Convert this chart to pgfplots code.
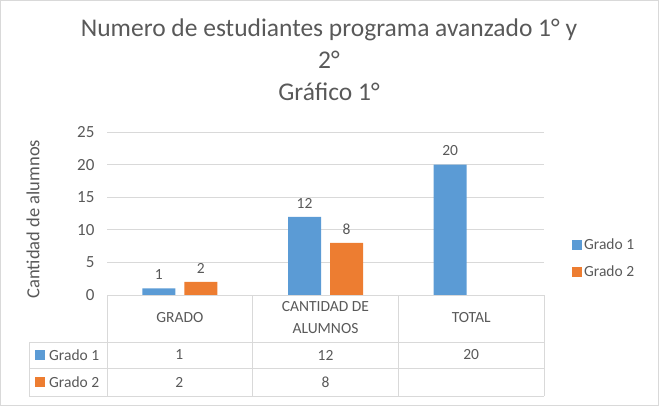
\documentclass[border=0pt]{standalone}
\usepackage{pgfplots}
\pgfplotsset{compat=1.18}
\usepackage{fontspec}
\setmainfont{Carlito}
\definecolor{gblue}{HTML}{5B9BD5}
\definecolor{gorange}{HTML}{ED7D31}
\definecolor{txt}{HTML}{595959}
\definecolor{gridc}{HTML}{D9D9D9}
\newcommand{\fs}{\fontsize{15.5}{22}\selectfont}
\begin{document}
\begin{tikzpicture}[x=1pt,y=1pt]
\useasboundingbox (0,0) rectangle (660,410);
\draw[gridc, line width=0.8pt] (0.5,5) rectangle (658,409.5);
% title
\node[anchor=base, text=txt, font=\fontsize{25.5}{30}\selectfont] at (329,373) {Numero de estudiantes programa avanzado 1° y};
\node[anchor=base, text=txt, font=\fontsize{25.5}{30}\selectfont] at (329,341) {2°};
\node[anchor=base, text=txt, font=\fontsize{25.5}{30}\selectfont] at (329,309) {Gráfico 1°};
\begin{axis}[
  at={(107pt,115pt)}, anchor=south west,
  scale only axis, width=437pt, height=163pt,
  xmin=-0.5, xmax=2.5, ymin=0, ymax=25,
  ybar=9pt, bar width=33pt,
  ytick={0,5,10,15,20,25},
  xtick={0,1,2},
  xticklabels={GRADO, {CANTIDAD DE\\ALUMNOS}, TOTAL},
  xticklabel style={align=center, anchor=center, yshift=-23pt, font=\fs, text=txt},
  yticklabel style={anchor=east, xshift=-9pt, font=\fontsize{17}{20}\selectfont, text=txt},
  /pgf/number format/assume math mode=true,
  ymajorgrids, grid style={draw=gridc, line width=0.8pt},
  axis line style={draw=none}, tick style={draw=none},
  major tick length=0pt,
  ylabel={Cantidad de alumnos},
  every axis y label/.style={at={(axis description cs:-0.169,0.466)}, rotate=90, anchor=center, font=\fontsize{18.5}{22}\selectfont, text=txt},
  nodes near coords,
  nodes near coords style={font=\fs, text=txt, yshift=5pt},
  legend style={at={(1.064,0.224)}, anchor=west, draw=none, fill=none, font=\fs, text=txt, row sep=10pt, inner sep=0pt},
  legend cell align=left,
]
\addplot[fill=gblue, draw=none, legend image code/.code={\fill[gblue] (0pt,-5pt) rectangle (10pt,5pt);}] coordinates {(0,1) (1,12) (2,20)};
\addlegendentry{Grado 1}
\addplot[fill=gorange, draw=none, legend image code/.code={\fill[gorange] (0pt,-5pt) rectangle (10pt,5pt);}] coordinates {(0,2) (1,8)};
\addlegendentry{Grado 2}
\end{axis}
% data table
\begin{scope}[gridc, line width=0.8pt]
\draw (107,115) -- (544,115);
\draw (29,68) -- (544,68);
\draw (29,42) -- (544,42);
\draw (29,14) -- (544,14);
\draw (29,14) -- (29,68);
\draw (107,14) -- (107,115);
\draw (252.7,14) -- (252.7,115);
\draw (398.3,14) -- (398.3,115);
\draw (544,14) -- (544,115);
\end{scope}
\fill[gblue] (35,50) rectangle (45,60);
\fill[gorange] (35,23) rectangle (45,33);
\node[anchor=west, text=txt, font=\fs, inner sep=0pt] at (49,55) {Grado 1};
\node[anchor=west, text=txt, font=\fs, inner sep=0pt] at (49,28) {Grado 2};
\node[text=txt, font=\fs] at (179.3,55) {1};
\node[text=txt, font=\fs] at (325.5,55) {12};
\node[text=txt, font=\fs] at (471.2,55) {20};
\node[text=txt, font=\fs] at (179.3,28) {2};
\node[text=txt, font=\fs] at (325.5,28) {8};
\end{tikzpicture}
\end{document}
